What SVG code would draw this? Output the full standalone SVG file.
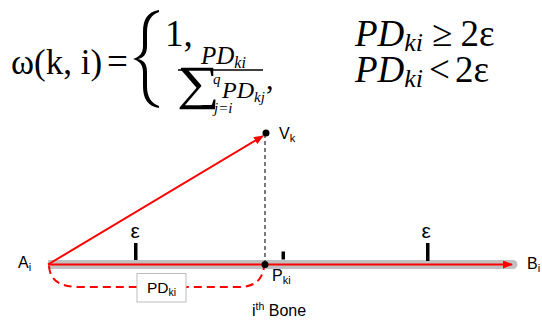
<svg xmlns="http://www.w3.org/2000/svg" width="542" height="320" viewBox="0 0 542 320">
<defs>
<style>
.m{font-family:"Liberation Serif","DejaVu Serif",serif;fill:#000}
.it{font-style:italic}
.s{font-family:"Liberation Sans",Arial,sans-serif;fill:#000}
.red{stroke:#ff0000;fill:none;stroke-width:2}
</style>
<marker id="ah" markerWidth="10" markerHeight="8" refX="9" refY="4" orient="auto" markerUnits="userSpaceOnUse">
<path d="M0,0 L10,4 L0,8 Z" fill="#ff0000"/>
</marker>
</defs>
<rect width="542" height="320" fill="#fff"/>
<g id="formula">
<text class="m" x="11" y="74" font-size="35">ω(k, i)</text>
<text class="m" x="107" y="74" font-size="37">=</text>
<path d="M159,10 C147,12 143,20 143,32 L143,46 C143,54 139,57 133,59 C139,61 143,64 143,72 L143,86 C143,98 147,106 159,108 L159,106 C151,103 147,97 147,86 L147,72 C147,63 143,60 138,59 C143,58 147,55 147,46 L147,32 C147,21 151,15 159,12 Z" fill="#000"/>
<text class="m" x="165" y="46" font-size="37">1,</text>
<text class="m it" x="201" y="64" font-size="25">PD<tspan font-size="16" dy="4">ki</tspan></text>
<line x1="178" y1="70" x2="263" y2="70" stroke="#000" stroke-width="1.5"/>
<text class="m" x="0" y="0" font-size="48" transform="translate(177,99) scale(1.25,1)">∑</text>
<text class="m it" x="213" y="84" font-size="15">q</text>
<text class="m it" x="214" y="113" font-size="15">j=i</text>
<text class="m it" x="222" y="98" font-size="24">PD<tspan font-size="15" dy="4">kj</tspan></text>
<text class="m" x="266" y="89" font-size="30">,</text>
<text class="m" x="355" y="46" font-size="37"><tspan class="it">PD</tspan><tspan class="it" font-size="26" dy="5">ki</tspan><tspan dy="-5" dx="9">≥</tspan><tspan dx="8">2ε</tspan></text>
<text class="m" x="355" y="82" font-size="37"><tspan class="it">PD</tspan><tspan class="it" font-size="26" dy="5">ki</tspan><tspan dy="-5" dx="6">&lt;</tspan><tspan dx="5">2ε</tspan></text>
</g>
<g id="bone">
<line x1="48" y1="264.5" x2="513" y2="264.5" stroke="#c0c0c0" stroke-width="9"/>
<path d="M513,260 A4.5,4.5 0 0 1 513,269 Z" fill="#c0c0c0"/>
</g>
<g id="connectors">
<line class="red" x1="48" y1="264.5" x2="512" y2="264.5" marker-end="url(#ah)"/>
<line class="red" x1="48" y1="264.5" x2="263" y2="136" marker-end="url(#ah)"/>
<line x1="265" y1="134" x2="265" y2="264" stroke="#222" stroke-width="1.2" stroke-dasharray="4,3"/>
<path class="red" d="M49,266 C50,282 62,287 80,287 L238,287 C255,287 262,280 264,267" stroke-dasharray="8,5"/>
</g>
<g id="ticks">
<rect x="134" y="243" width="3.5" height="17" fill="#000"/>
<rect x="426" y="243" width="3.5" height="18" fill="#000"/>
<rect x="281.5" y="251.5" width="3.5" height="8" fill="#000"/>
<text class="s" x="130.5" y="238" font-size="21">ε</text>
<text class="s" x="421.5" y="238" font-size="21">ε</text>
</g>
<g id="Vk">
<circle cx="266" cy="133" r="3.5" fill="#000"/>
<text class="s" x="279" y="139" font-size="16">V<tspan font-size="11" dy="3">k</tspan></text>
</g>
<g id="Pki">
<circle cx="265" cy="264.5" r="3.5" fill="#000"/>
<text class="s" x="272" y="281" font-size="16">P<tspan font-size="11" dy="3">ki</tspan></text>
</g>
<g id="Ai">
<text class="s" x="18" y="268" font-size="16">A<tspan font-size="11" dy="3">i</tspan></text>
</g>
<g id="Bi">
<text class="s" x="527" y="269" font-size="16">B<tspan font-size="11" dy="3">i</tspan></text>
</g>
<g id="PDbox">
<rect x="137" y="273.5" width="49" height="28.5" fill="#fff" stroke="#bdbdbd" stroke-width="1"/>
<text class="s" x="161.5" y="293" font-size="15.5" text-anchor="middle">PD<tspan font-size="10.5" dy="3">ki</tspan></text>
</g>
<g id="label">
<text class="s" x="252" y="316" font-size="16">i<tspan font-size="10.5" dy="-6">th</tspan><tspan dy="6"> Bone</tspan></text>
</g>
</svg>
